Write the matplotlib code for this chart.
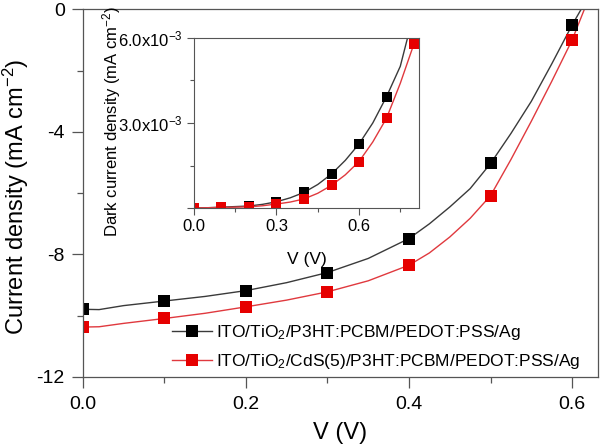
"""J-V curves of the two cells, with the dark current in an inset."""
import matplotlib
matplotlib.use('Agg')
import matplotlib.pyplot as plt
from matplotlib.ticker import MultipleLocator, FixedLocator

plt.rcParams['font.family'] = ['Liberation Sans', 'DejaVu Sans']
plt.rcParams['axes.unicode_minus'] = False
plt.rcParams['mathtext.fontset'] = 'custom'
plt.rcParams['mathtext.rm'] = 'Liberation Sans'
plt.rcParams['mathtext.it'] = 'Liberation Sans'

# illuminated J-V, markers every 0.1 V
v_mark = [0.0, 0.1, 0.2, 0.3, 0.4, 0.5, 0.6]
j_ref_mark = [-9.79, -9.52, -9.18, -8.59, -7.48, -5.03, -0.51]
j_cds_mark = [-10.37, -10.09, -9.71, -9.22, -8.35, -6.08, -1.00]

# illuminated J-V, traced line
v_ref_line = [0.0, 0.02, 0.05, 0.1, 0.15, 0.2, 0.25, 0.3, 0.35, 0.4, 0.425,
              0.45, 0.475, 0.5, 0.525, 0.55, 0.575, 0.6, 0.611]
j_ref_line = [-9.79, -9.80, -9.67, -9.52, -9.37, -9.18, -8.92, -8.59, -8.13,
              -7.48, -7.00, -6.45, -5.85, -5.03, -4.05, -3.00, -1.78, -0.51, 0.0]
v_cds_line = [0.0, 0.02, 0.05, 0.1, 0.15, 0.2, 0.25, 0.3, 0.35, 0.4, 0.425,
              0.45, 0.475, 0.5, 0.525, 0.55, 0.575, 0.6, 0.615]
j_cds_line = [-10.37, -10.36, -10.25, -10.09, -9.92, -9.71, -9.49, -9.22, -8.86,
              -8.35, -7.95, -7.43, -6.82, -6.08, -4.90, -3.65, -2.35, -1.00, 0.0]

# dark current (x1e-3 mA cm-2)
v_dark = [0.0, 0.1, 0.2, 0.3, 0.4, 0.5, 0.6, 0.7, 0.8]
jd_ref_mark = [0.0, 0.03, 0.07, 0.22, 0.55, 1.20, 2.26, 3.93, 6.9]
jd_cds_mark = [0.0, 0.02, 0.04, 0.14, 0.32, 0.80, 1.64, 3.17, 5.80]
v_dark_line = [0.0, 0.05, 0.1, 0.15, 0.2, 0.25, 0.3, 0.35, 0.4, 0.45, 0.5, 0.55,
               0.6, 0.65, 0.7, 0.75, 0.8]
jd_ref_line = [0.0, 0.01, 0.03, 0.05, 0.07, 0.13, 0.22, 0.36, 0.55, 0.83, 1.20,
               1.68, 2.26, 3.00, 3.93, 5.00, 6.9]
jd_cds_line = [0.0, 0.01, 0.02, 0.03, 0.04, 0.08, 0.14, 0.21, 0.32, 0.52, 0.80,
               1.17, 1.64, 2.33, 3.17, 4.40, 5.80]

labels = ['ITO/TiO$_2$/P3HT:PCBM/PEDOT:PSS/Ag',
          'ITO/TiO$_2$/CdS(5)/P3HT:PCBM/PEDOT:PSS/Ag']

BLACK = '#000000'
RED = '#e60000'
BLACK_LINE = '#3a3a3a'
RED_LINE = '#e0393e'
SPINE = '#555555'

fig = plt.figure(figsize=(6.0, 4.48), dpi=100)
ax = fig.add_axes([0.138, 0.1585, 0.859, 0.8205])

ax.plot(v_ref_line, j_ref_line, color=BLACK_LINE, lw=1.0)
ax.plot(v_cds_line, j_cds_line, color=RED_LINE, lw=1.0)
ax.plot(v_mark, j_ref_mark, ls='none', marker='s', ms=8.5, mew=0, color=BLACK)
ax.plot(v_mark, j_cds_mark, ls='none', marker='s', ms=8.5, mew=0, color=RED)

ax.set_xlim(0, 0.632)
ax.set_ylim(-12, 0)
ax.set_xticks([0.0, 0.2, 0.4, 0.6])
ax.set_xticklabels(['0.0', '0.2', '0.4', '0.6'])
ax.xaxis.set_minor_locator(MultipleLocator(0.1))
ax.set_yticks([-12, -8, -4, 0])
ax.set_yticklabels(['-12', '-8', '-4', '0'])
ax.yaxis.set_minor_locator(MultipleLocator(2))
ax.tick_params(which='major', direction='out', length=8, width=0.9, color=SPINE,
               labelsize=14)
ax.tick_params(axis='x', which='major', pad=6)
ax.tick_params(axis='y', which='major', pad=5)
ax.tick_params(which='minor', direction='out', length=4.5, width=0.9, color=SPINE)
for s in ax.spines.values():
    s.set_color(SPINE)
    s.set_linewidth(0.9)

ax.set_xlabel('V (V)', fontsize=17, labelpad=6)
ax.set_ylabel('Current density (mA cm$^{-2}$)', fontsize=17)
ax.yaxis.set_label_coords(-0.101, 0.49)

# legend entries built from the marker + line style
h1, = ax.plot([], [], color=BLACK_LINE, lw=1.0, marker='s', ms=8.5, mew=0,
              mfc=BLACK)
h2, = ax.plot([], [], color=RED_LINE, lw=1.0, marker='s', ms=8.5, mew=0,
              mfc=RED)
ax.legend([h1, h2], labels, loc='lower left', bbox_to_anchor=(0.16, -0.002),
          frameon=False, fontsize=12.5, handlelength=2.3, handletextpad=0.2,
          labelspacing=0.55, borderaxespad=0)

# inset: dark current
ins = fig.add_axes([0.3233, 0.5357, 0.375, 0.3795])
ins.plot(v_dark_line, [y * 1e-3 for y in jd_ref_line], color=BLACK_LINE, lw=1.0)
ins.plot(v_dark_line, [y * 1e-3 for y in jd_cds_line], color=RED_LINE, lw=1.0)
ins.plot(v_dark, [y * 1e-3 for y in jd_ref_mark], ls='none', marker='s', ms=6.5,
         mew=0, color=BLACK)
ins.plot(v_dark, [y * 1e-3 for y in jd_cds_mark], ls='none', marker='s', ms=6.5,
         mew=0, color=RED)
ins.set_xlim(0, 0.818)
ins.set_ylim(0, 6e-3)
ins.set_xticks([0.0, 0.3, 0.6])
ins.set_xticklabels(['0.0', '0.3', '0.6'])
ins.xaxis.set_minor_locator(FixedLocator([0.15, 0.45, 0.75]))
ins.set_yticks([0, 3e-3, 6e-3])
ins.set_yticklabels(['', '3.0x10$^{-3}$', '6.0x10$^{-3}$'])
ins.yaxis.set_minor_locator(FixedLocator([1.5e-3, 4.5e-3]))
ins.tick_params(which='major', direction='out', length=5, width=0.8, color=SPINE,
                labelsize=12, pad=3)
ins.tick_params(which='minor', direction='out', length=3, width=0.8, color=SPINE)
for s in ins.spines.values():
    s.set_color(SPINE)
    s.set_linewidth(0.8)
ins.set_xlabel('V (V)', fontsize=12.5, labelpad=13)
ins.set_ylabel('Dark current density (mA cm$^{-2}$)', fontsize=12)
ins.yaxis.set_label_coords(-0.316, 0.51)

fig.savefig('out.png', dpi=100)
